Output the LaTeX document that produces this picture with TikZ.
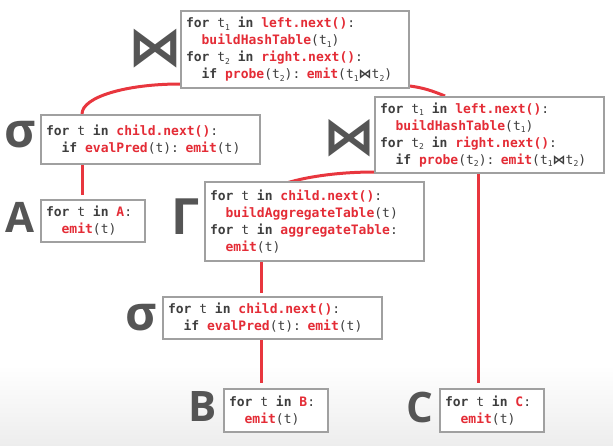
\documentclass[tikz,border=0pt]{standalone}
\usepackage{fontspec}
\setmonofont{DejaVu Sans Mono}
\newfontfamily\opfont{Open Sans}
\newfontfamily\tiefont{DejaVu Sans}
\usetikzlibrary{backgrounds}
\definecolor{codered}{RGB}{228,44,54}
\definecolor{linered}{RGB}{232,54,62}
\definecolor{codegray}{RGB}{62,62,62}
\definecolor{boxgray}{RGB}{160,160,160}
\definecolor{symgray}{RGB}{85,85,85}
\newcommand{\rd}[1]{\textcolor{codered}{\textbf{#1}}}
\newcommand{\kw}[1]{\textbf{#1}}
\newcommand{\tsub}[1]{\raisebox{-2.5pt}{\fontsize{8}{8}\selectfont#1}}
\newcommand{\jtie}{{\tiefont\bfseries ⋈}}
\tikzset{
  opbox/.style={draw=boxgray,line width=2pt,fill=white,anchor=north west,align=left,
    inner xsep=5pt,inner ysep=0pt,text=codegray,
    font=\ttfamily\fontsize{13}{17}\selectfont,
    execute at begin node={\spaceskip=7.83pt\relax}},
  opsym/.style={text=symgray,inner sep=0pt,font=\opfont\bfseries\fontsize{42}{42}\selectfont},
  link/.style={draw=linered,line width=3pt}
}
\begin{document}
\begin{tikzpicture}[x=1pt,y=-1pt]
\useasboundingbox (0,0) rectangle (613,445);
\node[opbox,text width=218pt,minimum height=77pt] (join1) at (180,10)
  {\kw{for} t\tsub{1} \kw{in} \rd{left.next()}:\\
   ~~\rd{buildHashTable}(t\tsub{1})\\
   \kw{for} t\tsub{2} \kw{in} \rd{right.next()}:\\
   ~~\kw{if} \rd{probe}(t\tsub{2}): \rd{emit}(t\tsub{1}\jtie t\tsub{2})};
\node[opbox,text width=219pt,minimum height=76pt] (join2) at (374,96)
  {\kw{for} t\tsub{1} \kw{in} \rd{left.next()}:\\
   ~~\rd{buildHashTable}(t\tsub{1})\\
   \kw{for} t\tsub{2} \kw{in} \rd{right.next()}:\\
   ~~\kw{if} \rd{probe}(t\tsub{2}): \rd{emit}(t\tsub{1}\jtie t\tsub{2})};
\node[opbox,text width=209pt,minimum height=49pt] (sigma1) at (40,114)
  {\kw{for} t \kw{in} \rd{child.next()}:\\
   ~~\kw{if} \rd{evalPred}(t): \rd{emit}(t)};
\node[opbox,text width=94pt,minimum height=42pt] (scanA) at (40,199)
  {\kw{for} t \kw{in} \rd{A}:\\ ~~\rd{emit}(t)};
\node[opbox,text width=209pt,minimum height=79pt] (gamma) at (204,181)
  {\kw{for} t \kw{in} \rd{child.next()}:\\
   ~~\rd{buildAggregateTable}(t)\\
   \kw{for} t \kw{in} \rd{aggregateTable}:\\
   ~~\rd{emit}(t)};
\node[opbox,text width=209pt,minimum height=42pt] (sigma2) at (162,296)
  {\kw{for} t \kw{in} \rd{child.next()}:\\
   ~~\kw{if} \rd{evalPred}(t): \rd{emit}(t)};
\node[opbox,text width=94pt,minimum height=43pt] (scanB) at (223,388)
  {\kw{for} t \kw{in} \rd{B}:\\ ~~\rd{emit}(t)};
\node[opbox,text width=94pt,minimum height=43pt] (scanC) at (439,388)
  {\kw{for} t \kw{in} \rd{C}:\\ ~~\rd{emit}(t)};
\node[opsym,font=\tiefont\bfseries\fontsize{54}{54}\selectfont] (tie1) at (155,49) {⋈};
\node[opsym,font=\tiefont\bfseries\fontsize{52}{52}\selectfont] (tie2) at (349,138) {⋈};
\node[opsym,font=\opfont\bfseries\fontsize{48}{48}\selectfont] (sel1) at (20,135) {σ};
\node[opsym] (relA) at (20,217) {A};
\node[opsym,font=\opfont\bfseries\fontsize{50}{50}\selectfont] (agg) at (186,217) {Γ};
\node[opsym,font=\opfont\bfseries\fontsize{48}{48}\selectfont] (sel2) at (141,318) {σ};
\node[opsym] (relB) at (203,407) {B};
\node[opsym] (relC) at (420,407) {C};
\begin{scope}[on background layer]
\shade[top color=white,bottom color=black!7] (0,365) rectangle (613,445);
\draw[link] ([xshift=42pt]sigma1.north west) .. controls +(0,-17) and +(-54,0) .. ([yshift=5pt]join1.south west);
\draw[link] ([yshift=3pt]join1.south east) to[out=-8,in=158] ([xshift=71pt]join2.north west);
\draw[link] ([xshift=57pt,yshift=-19pt]gamma.north west) .. controls +(0,-14) and +(-61,0) .. ([yshift=2pt]join2.south west);
\draw[link,shorten >=4pt] ([xshift=42pt]sigma1.south west) -- ([xshift=42pt]scanA.north west);
\draw[link,shorten >=3pt] ([xshift=57pt]gamma.south west) -- ([xshift=99pt]sigma2.north west);
\draw[link,shorten >=5pt] ([xshift=99pt]sigma2.south west) -- ([xshift=38pt]scanB.north west);
\draw[link,shorten >=5pt] ([xshift=104pt]join2.south west) -- ([xshift=39pt]scanC.north west);
\end{scope}
\end{tikzpicture}
\end{document}
